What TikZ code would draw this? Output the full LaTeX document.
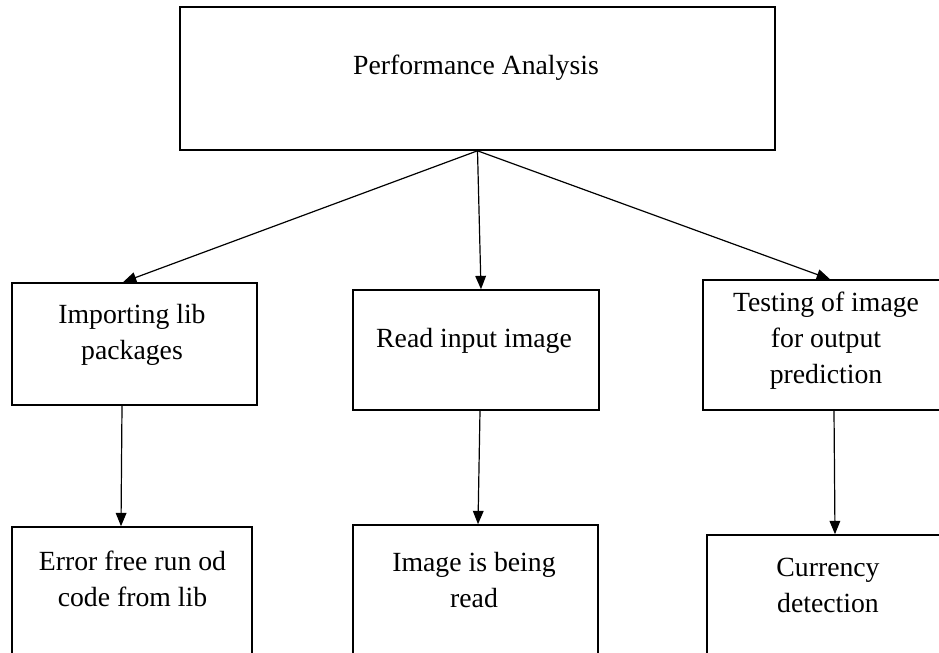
\documentclass[tikz,border=0pt]{standalone}
\usepackage{fontspec}
\setmainfont{Liberation Serif}
\usetikzlibrary{arrows.meta,calc}
\tikzset{%
    box/.style={rectangle, draw, line width=1.2pt, inner sep=0pt},
    txt/.style={align=center, inner sep=0pt, font=\fontsize{20.8}{27}\selectfont},
    arw/.style={line width=0.9pt, -{Triangle[length=10pt,width=8pt]}},
}

\begin{document}
\begin{tikzpicture}[x=0.75pt,y=-0.75pt]
    \useasboundingbox (0,0) rectangle (939,653);
    \clip (0,0) rectangle (939,653);
    % boxes
    \node[box,minimum width=446.25pt,minimum height=107.25pt] (perf) at (477.5,78.5) {};
    \node[box,minimum width=183.75pt,minimum height=91.5pt] (imp) at (134.5,344) {};
    \node[box,minimum width=184.5pt,minimum height=90pt] (read) at (476,350) {};
    \node[box,minimum width=184.5pt,minimum height=97.5pt] (test) at (826,345) {};
    \node[box,minimum width=180pt,minimum height=112.5pt] (err) at (132,602) {};
    \node[box,minimum width=183.75pt,minimum height=112.5pt] (img) at (475.5,600) {};
    \node[box,minimum width=181.5pt,minimum height=112.5pt] (det) at (828,610) {};
    % texts
    \node[txt] (perft) at (476,68) {Performance Analysis};
    \node[txt] (impt) at (132,335) {Importing lib\\packages};
    \node[txt] (readt) at (474,341) {Read input image};
    \node[txt] (testt) at (826,340.5) {Testing of image\\for output\\prediction};
    \node[txt] (errt) at (132.5,579) {Error free run od\\code from lib};
    \node[txt] (imgt) at (474,580.5) {Image is being\\read};
    \node[txt] (dett) at (828,585.5) {Currency\\detection};
    % arrows
    \draw[arw] (perf.south) -- ($(imp.north)+(-11.5,0)$);
    \draw[arw] (perf.south) -- ($(read.north)+(5,0)$);
    \draw[arw] (perf.south) -- ($(test.north)+(4,0)$);
    \draw[arw] ($(imp.south)+(-12.5,0)$) -- ($(err.north)+(-11,0)$);
    \draw[arw] ($(read.south)+(4,0)$) -- ($(img.north)+(2.5,0)$);
    \draw[arw] ($(test.south)+(8,0)$) -- ($(det.north)+(7,0)$);
\end{tikzpicture}
\end{document}
